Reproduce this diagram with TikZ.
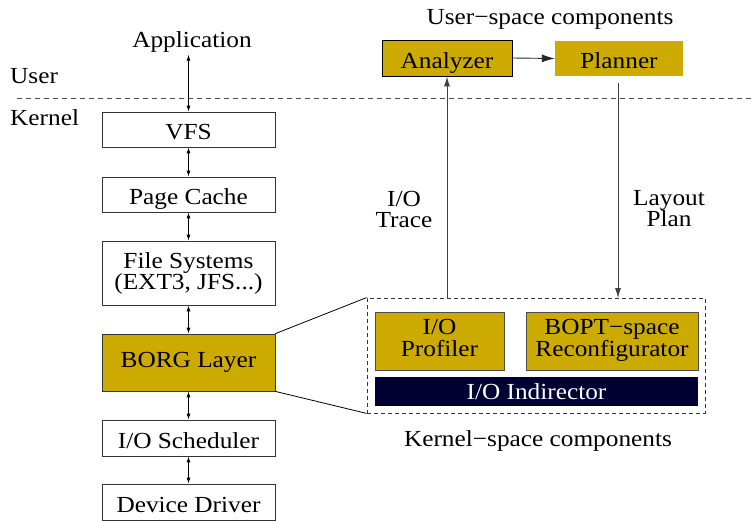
\documentclass[tikz,border=0pt]{standalone}
\usepackage{fontspec}
\setmainfont{Liberation Serif}[FakeStretch=1.1]
\usetikzlibrary{arrows.meta}
\definecolor{gold}{RGB}{204,170,0}
\definecolor{navy}{RGB}{0,0,51}
\newcommand{\twoline}[2]{\raisebox{-3pt}{\begin{tabular}{@{}c@{}}#1\\#2\end{tabular}}}
\begin{document}
\begin{tikzpicture}[x=1pt,y=-1pt,
  font=\fontsize{23}{21}\selectfont,
  box/.style={draw=black!80,line width=0.8pt,inner sep=0pt,minimum width=173pt,align=center},
  low/.style={text height=21pt,text depth=0pt},
  gbox/.style={fill=gold,inner sep=0pt,align=center},
  dbl/.style={line width=0.9pt,{Latex[length=6pt,width=4pt]}-{Latex[length=6pt,width=4pt]}},
  sgl/.style={line width=0.9pt,-{Latex[length=10pt,width=6pt]}},
  big/.style={line width=0.9pt,-{Latex[length=13pt,width=8pt]}},
  lbl/.style={inner sep=0pt,align=center}]
\useasboundingbox (0,0) rectangle (754,521);
% user/kernel separation
\draw[dashed,black!70,line width=0.9pt,dash pattern=on 5pt off 4pt] (17,98) -- (754,98);
\node[lbl,anchor=west] (user) at (10,76) {User};
\node[lbl,anchor=west] (kern) at (10,118) {Kernel};
% left stack
\node[lbl] (app) at (192,42) {Application};
\node[box,low,minimum height=35pt] (vfs) at (188.5,129.5) {VFS};
\node[box,low,minimum height=35pt] (pc) at (188.5,194.5) {Page Cache};
\node[box,minimum height=64pt] (fs) at (188.5,273) {File Systems\\(EXT3, JFS...)};
\node[box,fill=gold,minimum height=57pt] (borg) at (188.5,362.5) {BORG Layer};
\node[box,low,minimum height=36pt] (sch) at (188.5,438) {I/O Scheduler};
\node[box,low,minimum height=36pt] (dd) at (188.5,502) {Device Driver};
\draw[dbl] ([yshift=-2pt]app.south -| vfs.north) -- (vfs.north);
\draw[dbl] (vfs.south) -- (pc.north);
\draw[dbl] (pc.south) -- (fs.north);
\draw[dbl] (fs.south) -- (borg.north);
\draw[dbl] (borg.south) -- (sch.north);
\draw[dbl] (sch.south) -- (dd.north);
% user-space components
\node[lbl] (ust) at (550,19) {User−space components};
\node[gbox,low,draw=black,line width=0.8pt,minimum width=130pt,minimum height=36pt] (ana) at (447,58) {Analyzer};
\node[gbox,low,minimum width=128pt,minimum height=35pt] (plan) at (619,58.5) {Planner};
\draw[big,black!85] (ana.east) -- (plan.west);
% kernel-space components
\node[draw=black!80,dashed,dash pattern=on 4pt off 3pt,line width=0.8pt,inner sep=0pt,minimum width=338pt,minimum height=115pt] (kbox) at (536,355.5) {};
\node[gbox,draw=black!70,line width=0.8pt,minimum width=129pt,minimum height=58pt] (prof) at (439.5,341) {\twoline{I/O}{Profiler}};
\node[gbox,draw=black!70,line width=0.8pt,minimum width=172pt,minimum height=58pt] (reconf) at (612,341) {\twoline{BOPT−space}{Reconfigurator}};
\node[fill=navy,text=white,inner sep=0pt,minimum width=323pt,minimum height=29pt] (ind) at (536.5,391.5) {I/O Indirector};
\node[lbl] (kst) at (538,441) {Kernel−space components};
% zoom lines
\draw[line width=0.8pt] (borg.north east) -- (kbox.north west);
\draw[line width=0.8pt] (borg.south east) -- (kbox.south west);
% trace and plan arrows
\coordinate (tr0) at (447,298);
\coordinate (pl0) at (618,83);
\coordinate (pl1) at (618,298);
\draw[sgl,black!75] (tr0) -- (ana.south);
\draw[sgl,black!75] (pl0) -- (pl1);
\node[lbl] (trace) at (404,209) {I/O\\Trace};
\node[lbl] (lplan) at (669,209) {Layout\\Plan};
\end{tikzpicture}
\end{document}
